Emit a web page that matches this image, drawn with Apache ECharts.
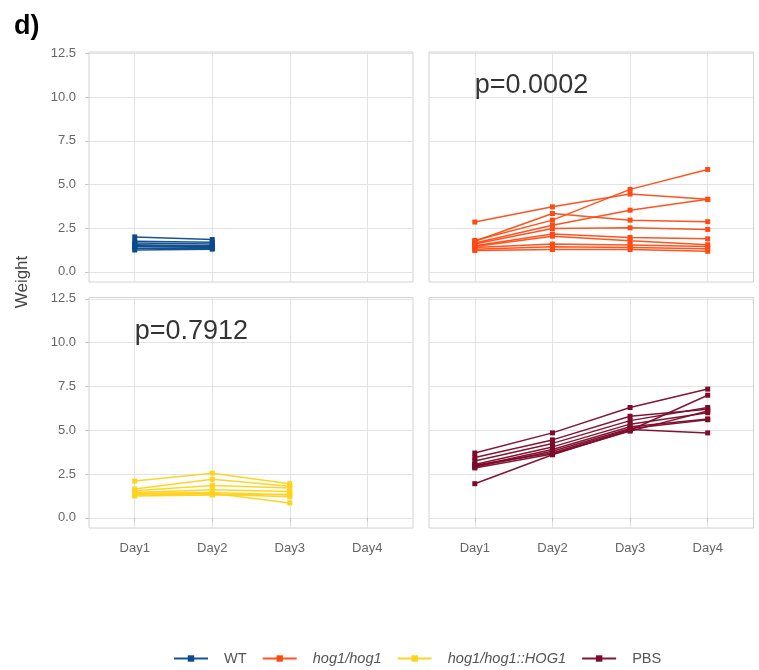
<!DOCTYPE html>
<html>
<head>
<meta charset="utf-8">
<script src="https://cdn.jsdelivr.net/npm/echarts@6/dist/echarts.min.js"></script>
<style>html,body{margin:0;padding:0;background:#fff;}#c{width:759px;height:670px;}</style>
</head>
<body>
<div id="c"></div>
<script>
// ---- data ----
var days = ['Day1', 'Day2', 'Day3', 'Day4'];
var yTicks = [0, 2.5, 5, 7.5, 10, 12.5];
var groups = ['WT', 'hog1/hog1', 'hog1/hog1::HOG1', 'PBS'];
var colors = ['#0B4A8C', '#FF4A14', '#FFD21E', '#7C0A28'];
var pLabels = ['p=0.0002', 'p=0.7912'];
var pPos = [1, 10.65];

var wtMice = [
  [2.0, 1.85], [1.75, 1.7], [1.65, 1.6], [1.55, 1.5],
  [1.5, 1.45], [1.45, 1.4], [1.35, 1.35], [1.25, 1.3]
];
var hogMice = [
  [2.85, 3.72, 4.45, 4.15],
  [1.8, 2.96, 4.72, 5.86],
  [1.75, 3.34, 2.96, 2.87],
  [1.65, 2.67, 3.53, 4.15],
  [1.6, 2.48, 2.52, 2.43],
  [1.5, 2.16, 1.97, 1.89],
  [1.45, 2.04, 1.78, 1.55],
  [1.4, 1.59, 1.53, 1.45],
  [1.3, 1.43, 1.39, 1.32],
  [1.22, 1.28, 1.28, 1.18]
];
var compMice = [
  [2.1, 2.55, 1.95],
  [1.65, 2.2, 1.8],
  [1.55, 1.85, 1.7],
  [1.45, 1.6, 1.5],
  [1.4, 1.45, 1.3],
  [1.35, 1.4, 0.85],
  [1.3, 1.35, 1.2],
  [1.25, 1.3, 1.35]
];
var pbsMice = [
  [3.7, 4.85, 6.3, 7.35],
  [3.45, 4.45, 5.8, 6.2],
  [3.25, 4.25, 5.55, 6.3],
  [3.05, 4.05, 5.35, 6.0],
  [2.95, 3.9, 5.2, 5.65],
  [2.9, 3.8, 5.1, 5.6],
  [1.95, 3.6, 5.0, 7.0],
  [3.0, 3.7, 5.05, 4.85],
  [2.85, 3.65, 4.95, 6.1]
];
var groupMice = [wtMice, hogMice, compMice, pbsMice];

// ---- layout ----
var FONT = "'Liberation Sans', Arial, Helvetica, sans-serif";
var gridBox = [
  {left: 89, top: 52, width: 324, height: 230},
  {left: 429, top: 52, width: 324.5, height: 230},
  {left: 89, top: 297.5, width: 324, height: 230.5},
  {left: 429, top: 297.5, width: 324.5, height: 230.5}
];
var grids = gridBox.map(function (g) {
  return {left: g.left, top: g.top, width: g.width, height: g.height,
    show: true, borderColor: '#d2d2d2', borderWidth: 1, backgroundColor: 'transparent', containLabel: false};
});
var xAxes = gridBox.map(function (g, i) {
  var bottom = i >= 2;
  return {
    type: 'value', gridIndex: i, min: 0.41, max: 4.59,
    axisLine: {show: false},
    axisTick: {show: bottom, customValues: [1, 2, 3, 4], length: 4, lineStyle: {color: '#c8c8c8'}},
    axisLabel: {show: bottom, customValues: [1, 2, 3, 4], margin: 14, color: '#666', fontSize: 13, fontFamily: FONT,
      formatter: function (v) { return days[Math.round(v) - 1]; }},
    splitLine: {show: true, lineStyle: {color: '#e3e3e3', width: 1}}
  };
});
var yAxes = gridBox.map(function (g, i) {
  var left = (i % 2) === 0;
  return {
    type: 'value', gridIndex: i, min: -0.58, max: 12.58,
    axisLine: {show: false},
    axisTick: {show: left, customValues: yTicks, length: 4, lineStyle: {color: '#c8c8c8'}},
    axisLabel: {show: left, customValues: yTicks, margin: 13, color: '#666', fontSize: 13, fontFamily: FONT,
      formatter: function (v) { return v.toFixed(1); }},
    splitLine: {show: true, lineStyle: {color: '#e3e3e3', width: 1}}
  };
});

var series = [];
groupMice.forEach(function (mice, gi) {
  mice.forEach(function (m) {
    series.push({
      type: 'line', name: groups[gi], xAxisIndex: gi, yAxisIndex: gi,
      data: m.map(function (v, d) { return [d + 1, v]; }),
      symbol: 'rect', symbolSize: 5, showSymbol: true,
      lineStyle: {color: colors[gi], width: 1.5, opacity: 0.95},
      itemStyle: {color: colors[gi]},
      emphasis: {disabled: true}, z: 3
    });
  });
});
[1, 2].forEach(function (gi, k) {
  series.push({
    type: 'scatter', name: 'pval' + k, xAxisIndex: gi, yAxisIndex: gi,
    data: [pPos], symbolSize: 0, silent: true,
    label: {show: true, position: 'right', distance: 0, formatter: pLabels[k],
      fontSize: 27, color: '#000', fontFamily: FONT}
  });
});

var chart = echarts.init(document.getElementById('c'), null, {renderer: 'canvas'});
chart.setOption({
  animation: false,
  backgroundColor: '#fff',
  title: {text: 'd)', left: 9, top: 8, textStyle: {fontSize: 27, fontWeight: 'bold', color: '#000', fontFamily: FONT}},
  grid: grids, xAxis: xAxes, yAxis: yAxes,
  legend: {
    data: groups, left: 168, top: 646, itemWidth: 34, itemHeight: 8, itemGap: 15,
    textStyle: {fontSize: 14.6, color: '#555', fontFamily: FONT, padding: [0, 0, 0, 11],
      rich: {i: {fontStyle: 'italic', fontSize: 14.6, color: '#555', fontFamily: FONT}}},
    formatter: function (n) { return (n === 'WT' || n === 'PBS') ? n : '{i|' + n + '}'; }
  },
  graphic: [{
    type: 'text', x: 22, y: 282, rotation: Math.PI / 2,
    style: {text: 'Weight', align: 'center', verticalAlign: 'middle', fontSize: 17, fill: '#444', fontFamily: FONT}
  }],
  series: series
});
</script>
</body>
</html>
